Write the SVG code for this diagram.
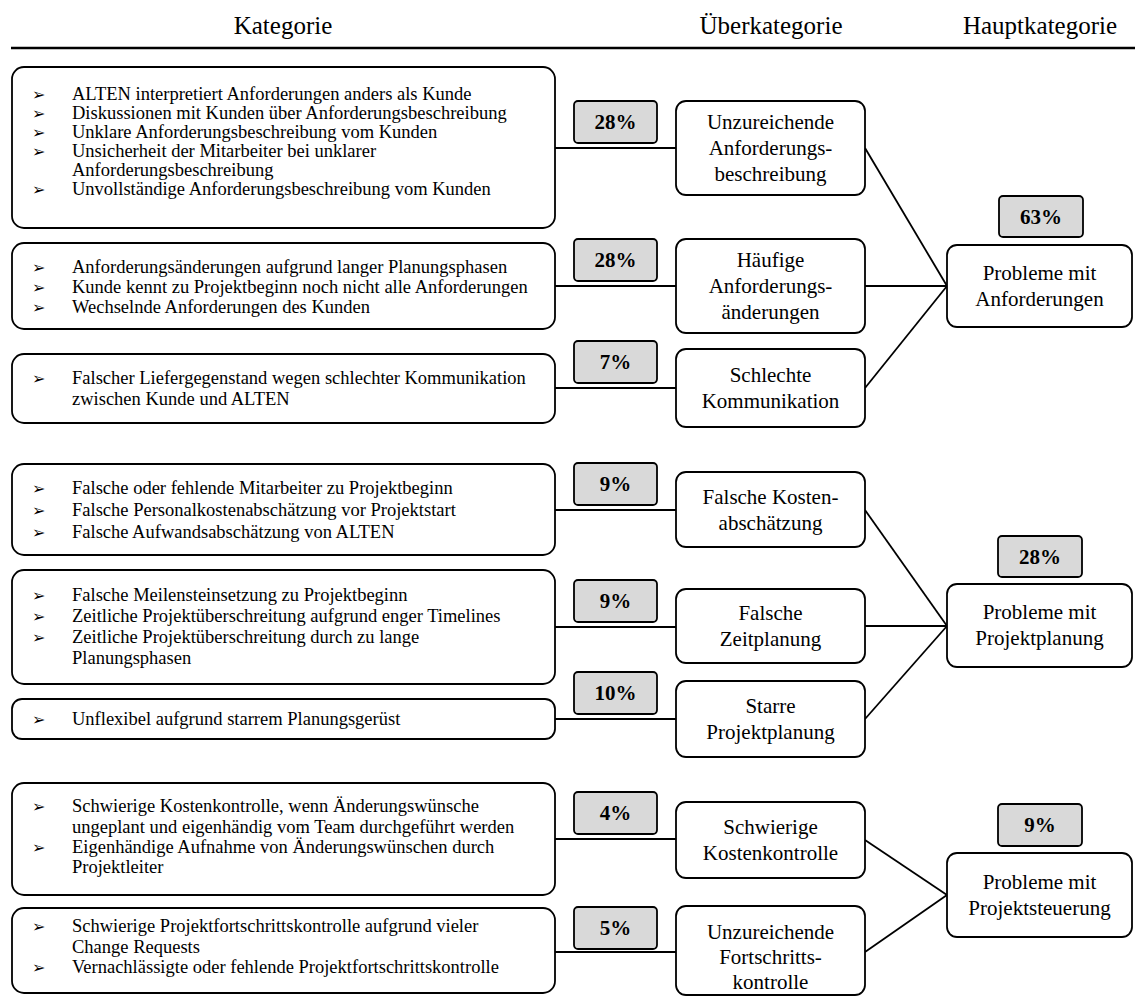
<svg xmlns="http://www.w3.org/2000/svg" width="1135" height="997" viewBox="0 0 1135 997">
<style>
.bx{fill:#fff;stroke:#000;stroke-width:1.8}
.pc{fill:#d9d9d9;stroke:#000;stroke-width:1.8}
.t{font-family:"Liberation Serif","Times New Roman",serif;font-size:18.5px;fill:#000}
.b{font-family:"DejaVu Sans",sans-serif;font-size:16px;fill:#000}
.n{font-family:"Liberation Serif","Times New Roman",serif;font-size:21px;fill:#000;text-anchor:middle}
.p{font-family:"Liberation Serif","Times New Roman",serif;font-size:21px;font-weight:bold;fill:#000;text-anchor:middle}
.h{font-family:"Liberation Serif","Times New Roman",serif;font-size:25px;fill:#000;text-anchor:middle}
.c{stroke:#000;stroke-width:1.8;fill:none}
</style>
<rect width="1135" height="997" fill="#fff"/>
<g id="header">
<text class="h" x="283" y="34">Kategorie</text>
<text class="h" x="771" y="34">Überkategorie</text>
<text class="h" x="1040" y="34">Hauptkategorie</text>
<line x1="11" y1="48" x2="1135" y2="48" stroke="#000" stroke-width="2.5"/>
</g>
<g id="connectors">
<line class="c" x1="555" y1="148" x2="676" y2="148"/>
<line class="c" x1="555" y1="286" x2="676" y2="286"/>
<line class="c" x1="555" y1="388" x2="676" y2="388"/>
<line class="c" x1="865" y1="148" x2="947" y2="286"/>
<line class="c" x1="865" y1="286" x2="947" y2="286"/>
<line class="c" x1="865" y1="388" x2="947" y2="286"/>
<line class="c" x1="555" y1="510" x2="676" y2="510"/>
<line class="c" x1="555" y1="627" x2="676" y2="627"/>
<line class="c" x1="555" y1="719" x2="676" y2="719"/>
<line class="c" x1="865" y1="510" x2="947" y2="626"/>
<line class="c" x1="865" y1="626" x2="947" y2="626"/>
<line class="c" x1="865" y1="719" x2="947" y2="626"/>
<line class="c" x1="555" y1="839" x2="676" y2="839"/>
<line class="c" x1="555" y1="952" x2="676" y2="952"/>
<line class="c" x1="865" y1="840" x2="947" y2="895"/>
<line class="c" x1="865" y1="952" x2="947" y2="895"/>
</g>
<g id="k1">
<rect class="bx" x="12" y="67" width="543" height="161" rx="12"/>
<text class="b" x="32" y="100">➢</text><text class="t" x="72" y="100">ALTEN interpretiert Anforderungen anders als Kunde</text>
<text class="b" x="32" y="119">➢</text><text class="t" x="72" y="119">Diskussionen mit Kunden über Anforderungsbeschreibung</text>
<text class="b" x="32" y="138">➢</text><text class="t" x="72" y="138">Unklare Anforderungsbeschreibung vom Kunden</text>
<text class="b" x="32" y="157">➢</text><text class="t" x="72" y="157">Unsicherheit der Mitarbeiter bei unklarer</text>
<text class="t" x="72" y="176">Anforderungsbeschreibung</text>
<text class="b" x="32" y="195">➢</text><text class="t" x="72" y="195">Unvollständige Anforderungsbeschreibung vom Kunden</text>
</g>
<g id="k2">
<rect class="bx" x="12" y="243" width="543" height="86" rx="12"/>
<text class="b" x="32" y="273">➢</text><text class="t" x="72" y="273">Anforderungsänderungen aufgrund langer Planungsphasen</text>
<text class="b" x="32" y="293">➢</text><text class="t" x="72" y="293">Kunde kennt zu Projektbeginn noch nicht alle Anforderungen</text>
<text class="b" x="32" y="313">➢</text><text class="t" x="72" y="313">Wechselnde Anforderungen des Kunden</text>
</g>
<g id="k3">
<rect class="bx" x="12" y="354" width="543" height="69" rx="12"/>
<text class="b" x="32" y="384">➢</text><text class="t" x="72" y="384">Falscher Liefergegenstand wegen schlechter Kommunikation</text>
<text class="t" x="72" y="405">zwischen Kunde und ALTEN</text>
</g>
<g id="k4">
<rect class="bx" x="12" y="464" width="543" height="91" rx="12"/>
<text class="b" x="32" y="494">➢</text><text class="t" x="72" y="494">Falsche oder fehlende Mitarbeiter zu Projektbeginn</text>
<text class="b" x="32" y="516">➢</text><text class="t" x="72" y="516">Falsche Personalkostenabschätzung vor Projektstart</text>
<text class="b" x="32" y="538">➢</text><text class="t" x="72" y="538">Falsche Aufwandsabschätzung von ALTEN</text>
</g>
<g id="k5">
<rect class="bx" x="12" y="570" width="543" height="114" rx="12"/>
<text class="b" x="32" y="601">➢</text><text class="t" x="72" y="601">Falsche Meilensteinsetzung zu Projektbeginn</text>
<text class="b" x="32" y="622">➢</text><text class="t" x="72" y="622">Zeitliche Projektüberschreitung aufgrund enger Timelines</text>
<text class="b" x="32" y="643">➢</text><text class="t" x="72" y="643">Zeitliche Projektüberschreitung durch zu lange</text>
<text class="t" x="72" y="664">Planungsphasen</text>
</g>
<g id="k6">
<rect class="bx" x="12" y="699" width="543" height="40" rx="10"/>
<text class="b" x="32" y="725">➢</text><text class="t" x="72" y="725">Unflexibel aufgrund starrem Planungsgerüst</text>
</g>
<g id="k7">
<rect class="bx" x="12" y="783" width="543" height="112" rx="12"/>
<text class="b" x="32" y="812">➢</text><text class="t" x="72" y="812">Schwierige Kostenkontrolle, wenn Änderungswünsche</text>
<text class="t" x="72" y="833">ungeplant und eigenhändig vom Team durchgeführt werden</text>
<text class="b" x="32" y="853">➢</text><text class="t" x="72" y="853">Eigenhändige Aufnahme von Änderungswünschen durch</text>
<text class="t" x="72" y="873">Projektleiter</text>
</g>
<g id="k8">
<rect class="bx" x="12" y="908" width="543" height="85" rx="12"/>
<text class="b" x="32" y="932">➢</text><text class="t" x="72" y="932">Schwierige Projektfortschrittskontrolle aufgrund vieler</text>
<text class="t" x="72" y="953">Change Requests</text>
<text class="b" x="32" y="973">➢</text><text class="t" x="72" y="973">Vernachlässigte oder fehlende Projektfortschrittskontrolle</text>
</g>
<g id="p1"><rect class="pc" x="574" y="101" width="83" height="42" rx="4"/><text class="p" x="615.5" y="129">28%</text></g>
<g id="p2"><rect class="pc" x="574" y="239" width="83" height="42" rx="4"/><text class="p" x="615.5" y="267">28%</text></g>
<g id="p3"><rect class="pc" x="574" y="341" width="83" height="42" rx="4"/><text class="p" x="615.5" y="369">7%</text></g>
<g id="p4"><rect class="pc" x="574" y="463" width="83" height="42" rx="4"/><text class="p" x="615.5" y="491">9%</text></g>
<g id="p5"><rect class="pc" x="574" y="580" width="83" height="42" rx="4"/><text class="p" x="615.5" y="608">9%</text></g>
<g id="p6"><rect class="pc" x="574" y="672" width="83" height="42" rx="4"/><text class="p" x="615.5" y="700">10%</text></g>
<g id="p7"><rect class="pc" x="574" y="792" width="83" height="42" rx="4"/><text class="p" x="615.5" y="820">4%</text></g>
<g id="p8"><rect class="pc" x="574" y="907" width="83" height="42" rx="4"/><text class="p" x="615.5" y="935">5%</text></g>
<g id="u1"><rect class="bx" x="676" y="101" width="189" height="94" rx="10"/><text class="n" x="770.5" y="129">Unzureichende</text><text class="n" x="770.5" y="155">Anforderungs-</text><text class="n" x="770.5" y="181">beschreibung</text></g>
<g id="u2"><rect class="bx" x="676" y="239" width="189" height="94" rx="10"/><text class="n" x="770.5" y="267">Häufige</text><text class="n" x="770.5" y="293">Anforderungs-</text><text class="n" x="770.5" y="319">änderungen</text></g>
<g id="u3"><rect class="bx" x="676" y="349" width="189" height="78" rx="10"/><text class="n" x="770.5" y="382">Schlechte</text><text class="n" x="770.5" y="408">Kommunikation</text></g>
<g id="u4"><rect class="bx" x="676" y="472" width="189" height="75" rx="10"/><text class="n" x="770.5" y="504">Falsche Kosten-</text><text class="n" x="770.5" y="530">abschätzung</text></g>
<g id="u5"><rect class="bx" x="676" y="589" width="189" height="74" rx="10"/><text class="n" x="770.5" y="620">Falsche</text><text class="n" x="770.5" y="646">Zeitplanung</text></g>
<g id="u6"><rect class="bx" x="676" y="681" width="189" height="76" rx="10"/><text class="n" x="770.5" y="713">Starre</text><text class="n" x="770.5" y="739">Projektplanung</text></g>
<g id="u7"><rect class="bx" x="676" y="802" width="189" height="76" rx="10"/><text class="n" x="770.5" y="834">Schwierige</text><text class="n" x="770.5" y="860">Kostenkontrolle</text></g>
<g id="u8"><rect class="bx" x="676" y="906" width="189" height="89" rx="10"/><text class="n" x="770.5" y="939">Unzureichende</text><text class="n" x="770.5" y="964">Fortschritts-</text><text class="n" x="770.5" y="989">kontrolle</text></g>
<g id="h1"><rect class="pc" x="999" y="196" width="84" height="41" rx="4"/><text class="p" x="1041" y="224">63%</text><rect class="bx" x="947" y="245" width="185" height="82" rx="10"/><text class="n" x="1039.5" y="280">Probleme mit</text><text class="n" x="1039.5" y="306">Anforderungen</text></g>
<g id="h2"><rect class="pc" x="998" y="536" width="84" height="41" rx="4"/><text class="p" x="1040" y="564">28%</text><rect class="bx" x="947" y="584" width="185" height="83" rx="10"/><text class="n" x="1039.5" y="619">Probleme mit</text><text class="n" x="1039.5" y="645">Projektplanung</text></g>
<g id="h3"><rect class="pc" x="998" y="804" width="84" height="42" rx="4"/><text class="p" x="1040" y="832">9%</text><rect class="bx" x="947" y="853" width="185" height="84" rx="10"/><text class="n" x="1039.5" y="889">Probleme mit</text><text class="n" x="1039.5" y="915">Projektsteuerung</text></g>
</svg>
